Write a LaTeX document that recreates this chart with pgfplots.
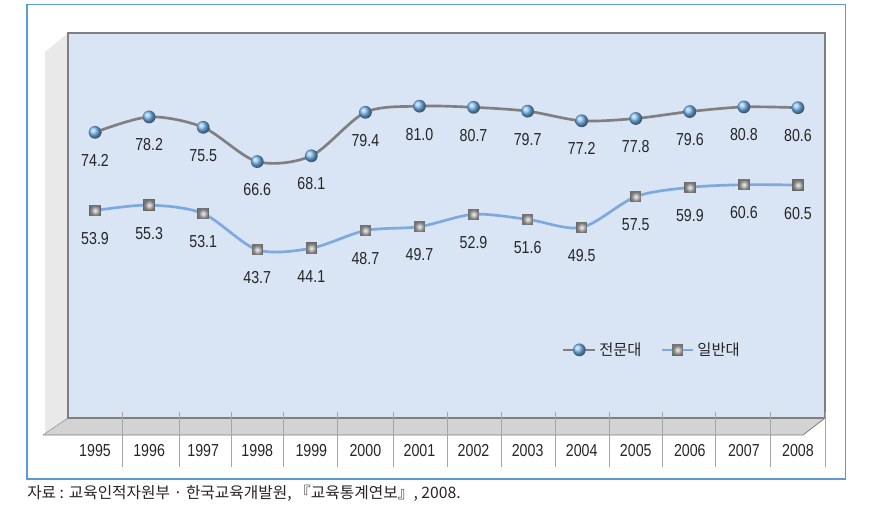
\documentclass[border=0pt]{standalone}
\usepackage{pgfplots}
\pgfplotsset{compat=1.18}
\usepackage{fontspec}
\setmainfont{Liberation Sans}
\newfontfamily\narrow[FakeStretch=0.82]{Liberation Sans}
\newfontfamily\kr{Noto Sans CJK KR}
\definecolor{panel}{HTML}{D9E4F5}
\definecolor{wall}{HTML}{E9E9E9}
\definecolor{floorc}{HTML}{D3D3D3}
\definecolor{edge}{HTML}{7F7F7F}
\definecolor{gridc}{HTML}{A6A6A6}
\definecolor{framec}{HTML}{5B9BD5}
\definecolor{lgray}{HTML}{808080}
\definecolor{lblue}{HTML}{7DA9DC}
\definecolor{ballc}{HTML}{4FA3EE}
\pgfdeclareplotmark{myball}{\shade[draw=none, ball color=ballc!75!white] (0pt,0pt) circle (\pgfplotmarksize);}
\pgfdeclareplotmark{mysq}{\fill[draw=none, fill=black!60] (-\pgfplotmarksize,-\pgfplotmarksize) rectangle (\pgfplotmarksize,\pgfplotmarksize);
  \shade[draw=none, inner color=gray!10, outer color=black!55] (-0.85\pgfplotmarksize,-0.85\pgfplotmarksize) rectangle (0.85\pgfplotmarksize,0.85\pgfplotmarksize);}
\pgfplotstableread{
x a b
0 74.2 53.9
1 78.2 55.3
2 75.5 53.1
3 66.6 43.7
4 68.1 44.1
5 79.4 48.7
6 81.0 49.7
7 80.7 52.9
8 79.7 51.6
9 77.2 49.5
10 77.8 57.5
11 79.6 59.9
12 80.8 60.6
13 80.6 60.5
}\datatable
\begin{document}
\begin{tikzpicture}
\begin{scope}[x=0.75pt,y=-0.75pt]
\path (0,0) rectangle (887,521);
\draw[framec, line width=0.8pt] (27,4.5) rectangle (845.5,479);
\fill[wall] (45,52) -- (68,33) -- (68,418) -- (45,435) -- cycle;
\fill[floorc] (68,418) -- (825,418) -- (803,435) -- (43,435) -- cycle;
\draw[edge, line width=0.6pt] (43,435) -- (803,435) -- (825,418);
\draw[gridc, line width=0.6pt] (43,435) -- (68,418);
\end{scope}
\begin{axis}[
  at={(51pt,-313.5pt)}, anchor=south west,
  scale only axis, width=567.75pt, height=288.75pt,
  xmin=-0.5, xmax=13.5, ymin=0, ymax=100,
  axis background/.style={fill=panel},
  axis line style={edge, line width=0.8pt},
  ytick=\empty,
  xtick={0,...,13},
  xticklabels={1995,1996,1997,1998,1999,2000,2001,2002,2003,2004,2005,2006,2007,2008},
  major tick length=0pt,
  xticklabel style={anchor=center, yshift=-24.75pt, font=\narrow\fontsize{13}{15}\selectfont, text=black!85},
  clip=false,
  nodes near coords={\pgfmathprintnumber[fixed,fixed zerofill,precision=1,assume math mode=true]{\pgfplotspointmeta}},
  every node near coord/.append style={anchor=center, yshift=-21pt, font=\narrow\fontsize{13}{15}\selectfont, text=black!85},
  legend style={at={(0.647,0.177)}, anchor=west, draw=none, fill=none, legend columns=2,
    font=\kr\fontsize{11.5}{13}\selectfont, text=black!85,
    /tikz/every even column/.append style={column sep=12pt}},
  legend image code/.code={\draw[mark repeat=2,mark phase=2] plot coordinates {(0cm,0cm) (0.42cm,0cm) (0.84cm,0cm)};},
]
\addplot[lgray, line width=2pt, smooth, mark=myball, mark size=4.8pt] table[x=x,y=a]{\datatable};
\addlegendentry{전문대}
\addplot[lblue, line width=2pt, smooth, mark=mysq, mark size=4.3pt] table[x=x,y=b]{\datatable};
\addlegendentry{일반대}
\end{axis}
\begin{scope}[x=0.75pt,y=-0.75pt]
\foreach \xx in {122,179,231,283,337,393,447,501,555,609,662,715,770,825}
  \draw[gridc, line width=0.6pt] (\xx,412) -- (\xx,467);
\node[anchor=west, font=\kr\fontsize{11.8}{13}\selectfont, text=black!85, inner sep=0pt] at (27,493) {자료 : 교육인적자원부 · 한국교육개발원, 『교육통계연보』, 2008.};
\end{scope}
\end{tikzpicture}
\end{document}
